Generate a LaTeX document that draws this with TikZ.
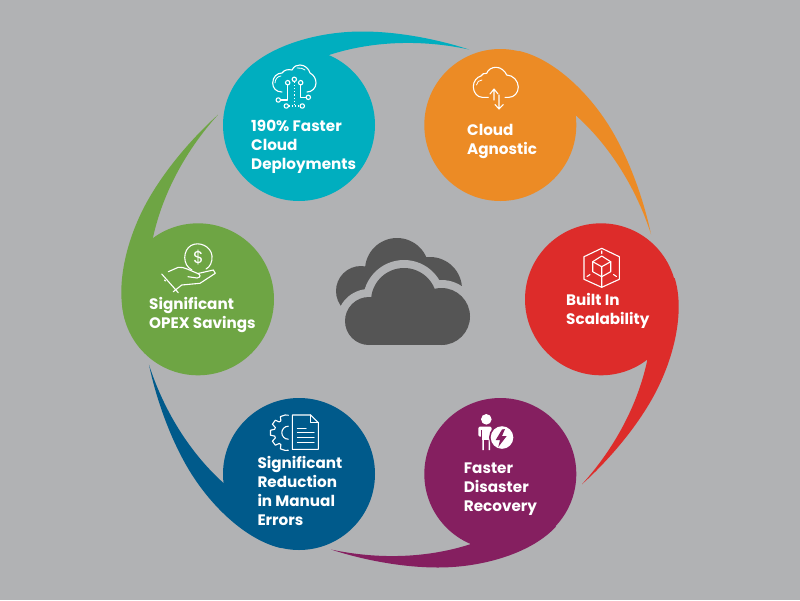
\documentclass[tikz,border=0pt]{standalone}
\usepackage{fontspec}
\setmainfont{Poppins}
\definecolor{bgc}{RGB}{177,178,180}
\definecolor{cteal}{RGB}{0,174,191}
\definecolor{corange}{RGB}{236,139,37}
\definecolor{cred}{RGB}{221,44,42}
\definecolor{cpurple}{RGB}{133,31,96}
\definecolor{cnavy}{RGB}{0,90,139}
\definecolor{cgreen}{RGB}{110,165,68}
\definecolor{cdark}{RGB}{85,85,85}
\tikzset{
  bubble/.style={circle,inner sep=0pt,minimum size=152pt,fill=#1},
  lbl/.style={text=white,inner sep=0pt,anchor=base west,align=left,font=\fontsize{15.2}{18.7}\selectfont\bfseries},
  ico/.style={draw=white,line width=1.1pt,line join=round,line cap=round},
}
\begin{document}
\begin{tikzpicture}[x=1pt,y=-1pt]
\fill[bgc] (0,0) rectangle (800,600);
\useasboundingbox (0,0) rectangle (800,600);
% tails
\foreach \ang/\col in {0/cteal,-60/corange,-120/cred,-180/cpurple,-240/cnavy,-300/cgreen}{
  \fill[\col,rotate around={\ang:(400,299.5)}]
    (300,100) -- (244,72.5) .. controls (267,47) and (315,31.5) .. (362,31.5)
    .. controls (400,31.5) and (440,40) .. (469,49.5)
    .. controls (425,40) and (375,40) .. (329,55) -- cycle;
}
% bubbles
\node[bubble=cteal] (b1) at (299,125) {};
\node[bubble=corange] (b2) at (500.3,125) {};
\node[bubble=cred] (b3) at (601,299.3) {};
\node[bubble=cpurple] (b4) at (500.3,474) {};
\node[bubble=cnavy] (b5) at (299,474) {};
\node[bubble=cgreen] (b6) at (198,299.3) {};
% labels (anchored on the baseline of the last line)
\node[lbl] (t1) at (251,169) {190\% Faster\\Cloud\\Deployments};
\node[lbl] (t2) at (467,154.3) {Cloud\\Agnostic};
\node[lbl] (t3) at (566,324.3) {Built In\\Scalability};
\node[lbl] (t4) at (463.7,511) {Faster\\Disaster\\Recovery};
\node[lbl] (t5) at (257.3,525) {Significant\\Reduction\\in Manual\\Errors};
\node[lbl] (t6) at (149,328) {Significant\\OPEX Savings};
% central cloud
\fill[cdark] (397,270) circle (32) (361,291) circle (25) (430,289) circle (32);
\fill[cdark] (361,285) rectangle (430,300);
\fill[bgc] (369,321) circle (32) (404,301) circle (41) (441.5,316.5) circle (36.5) (360,300) rectangle (450,353);
\fill[cdark] (369,321) circle (24) (404,301) circle (33) (441.5,316.5) circle (28.5);
\fill[cdark] (369,300) rectangle (441.5,345);
% teal icon
\draw[ico] (282,92) .. controls (276,92) and (272.7,88) .. (272.7,83) .. controls (272.7,77) and (277,73) .. (282,73)
  .. controls (284,70) and (288,69) .. (292,70) .. controls (294,66) and (297,65) .. (300,65)
  .. controls (305,65) and (309,69) .. (310,73) .. controls (314,75) and (316,79) .. (316,83)
  .. controls (316,88) and (312,92) .. (307,92);
\draw[ico,line width=.8pt] (275,83) .. controls (275,79) and (278,76) .. (281,76);
\draw[ico,line width=.8pt] (297,68) .. controls (300,67.5) and (303,68.5) .. (305,70);
\foreach \p in {(287.7,82.7),(294.3,79.3),(300.7,82.7),(278.3,100),(308.3,97.3),(286.3,106),(302.3,106)}
  \draw[ico] \p circle (2.2);
\draw[ico] (287.7,85) -- (287.7,100) -- (280.5,100);
\draw[ico] (300.7,85) -- (300.7,97.3) -- (306,97.3);
\draw[ico,dotted,line cap=butt] (294.3,82) -- (294.3,106);
\draw[ico,dotted,line cap=butt] (288.5,106) -- (300,106);
% orange icon
\draw[ico] (488.3,97.3) -- (482,97.3) .. controls (477,97.3) and (473.3,92) .. (473.3,86.7) .. controls (473.3,81) and (477,77) .. (481,76)
  .. controls (482,74) and (484,73) .. (486.7,73.3) .. controls (488,69.5) and (492,67.3) .. (496,67.3)
  .. controls (501,67.3) and (505,71) .. (506.7,75) .. controls (513,75) and (518.3,81) .. (518.3,87)
  .. controls (518.3,93) and (514,97.3) .. (509,97.3) -- (505,97.3);
\draw[ico,line width=.8pt] (476.5,85) .. controls (477,82) and (479,80) .. (482,80);
\draw[ico] (494,100) -- (494,89) (490,94) -- (494,89) -- (498,94);
\draw[ico] (499,95) -- (499,109) (495,104.5) -- (499,109) -- (503.3,104.5);
% red icon
\draw[ico] (601.7,248.3) -- (619.3,256.7) -- (619.3,279.3) -- (601.7,287.3) -- (584,279.3) -- (584,256.7) -- cycle;
\draw[ico] (601.7,256) -- (610.7,261.7) -- (610.7,271.7) -- (601.7,276.7) -- (592.7,271.7) -- (592.7,261.7) -- cycle;
\draw[ico] (592.7,261.7) -- (601.7,266.7) -- (610.7,261.7) (601.7,266.7) -- (601.7,287.3);
\draw[ico] (601.7,251) -- (601.7,253.5) (587,276.5) -- (590,274.5) (616.5,276.5) -- (613.5,274.5);
% green icon
\draw[ico] (192,270) .. controls (182,265) and (183,250) .. (191,245.5) .. controls (199,241) and (211,246) .. (212,256) .. controls (212.5,262) and (210,267) .. (206,269);
\node[text=white,inner sep=0pt,font=\fontsize{17}{17}\selectfont] (dollar) at (198.3,257.3) {\$};
\draw[ico] (161.7,274) -- (178.3,292.7);
\draw[ico] (168.3,271.7) -- (178.3,267.3) .. controls (184,266.5) and (191,271) .. (197.3,273.3) .. controls (201,274.5) and (201,277.5) .. (197,278) -- (188,276.7);
\draw[ico] (198,273.5) -- (213.3,270) -- (215.3,273.3) -- (200,283.3) -- (181.7,285) -- (173.3,291.7);
\draw[ico] (164.5,280) -- (165.5,281);
% navy icon
\draw[ico] (292.3,415) -- (310.7,415) -- (318.3,422.7) -- (318.3,449.3) -- (292.3,449.3) -- cycle;
\draw[ico] (310.7,415) -- (310.7,422.7) -- (318.3,422.7);
\draw[ico] (297.3,428.3) -- (306,428.3) (297.3,432.7) -- (314,432.7) (297.3,437.7) -- (314,437.7) (297.3,442.7) -- (314,442.7);
\begin{scope}[shift={(288.3,432.7)}]
\draw[ico] (90:17.5) -- (100:18) -- (116:18) -- (122:14) -- (130:14) -- (136:18) -- (152:18) -- (158:14) -- (166:14) -- (172:18) -- (188:18) -- (194:14) -- (202:14) -- (208:18) -- (224:18) -- (230:14) -- (238:14) -- (244:18) -- (260:18) -- (270:17.5);
\draw[ico] (90:6.5) arc[start angle=90,end angle=270,radius=6.5];
\end{scope}
% purple icon
\fill[white] (486.3,419.3) circle (5.3);
\fill[white,rounded corners=1.5pt] (478.3,426.5) rectangle (491.7,436.7);
\fill[white] (482.3,436) rectangle (483.8,450) (488.5,436) rectangle (490,450);
\fill[white] (482.3,436) rectangle (490,440);
\draw[cpurple,line width=.8pt] (481.3,430) -- (481.3,437);
\fill[cpurple] (502,437.5) circle (13);
\fill[white] (502,437.5) circle (11.3);
\fill[cpurple] (502,429.5) -- (495.7,440) -- (500,440) -- (498.3,447) -- (506.7,436) -- (502,436) -- (505,429) -- cycle;
\end{tikzpicture}
\end{document}
